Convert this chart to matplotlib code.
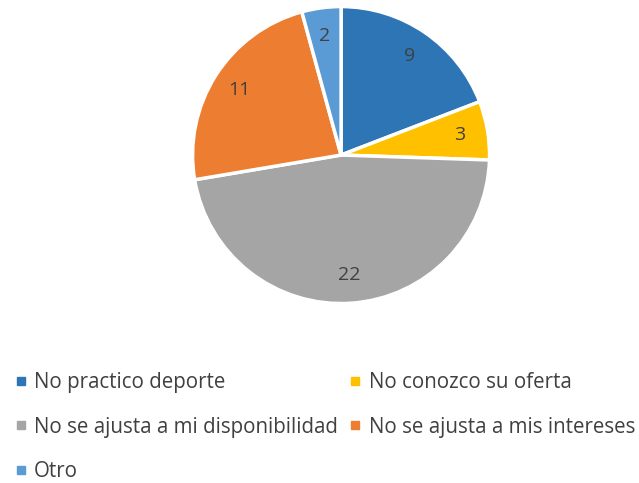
import matplotlib.pyplot as plt
from matplotlib.lines import Line2D

plt.rcParams['font.family'] = ['Open Sans', 'DejaVu Sans']

categories = ["No practico deporte", "No conozco su oferta",
              "No se ajusta a mi disponibilidad", "No se ajusta a mis intereses",
              "Otro"]
values = [9, 3, 22, 11, 2]
colors = ["#2E75B6", "#FFC000", "#A5A5A5", "#ED7D31", "#5B9BD5"]
text_color = "#404040"

fig = plt.figure(figsize=(6.39, 4.83), dpi=100)
ax = fig.add_axes([0.299, 0.3685, 0.4695, 0.621])

total = sum(values)
wedges, texts, autotexts = ax.pie(
    values, colors=colors, startangle=90, counterclock=False,
    autopct=lambda p: f"{round(p * total / 100):d}", pctdistance=0.81,
    wedgeprops=dict(edgecolor="white", linewidth=2.5),
    textprops=dict(color=text_color, fontsize=14))
ax.set_xlim(-1.01, 1.01)
ax.set_ylim(-1.01, 1.01)
ax.set_aspect("equal")

# row-major legend order for two columns
order = [0, 2, 4, 1, 3]
handles = [Line2D([], [], marker="s", linestyle="", markersize=6,
                  color=colors[i]) for i in order]
labels = [categories[i] for i in order]
fig.legend(handles, labels, loc="upper left", bbox_to_anchor=(0.01, 0.247),
           ncol=2, frameon=False, fontsize=14.8, handlelength=0.6,
           handletextpad=0.35, columnspacing=0.55, labelspacing=1.15,
           labelcolor=text_color, borderaxespad=0)

fig.savefig("out.png", dpi=100)
